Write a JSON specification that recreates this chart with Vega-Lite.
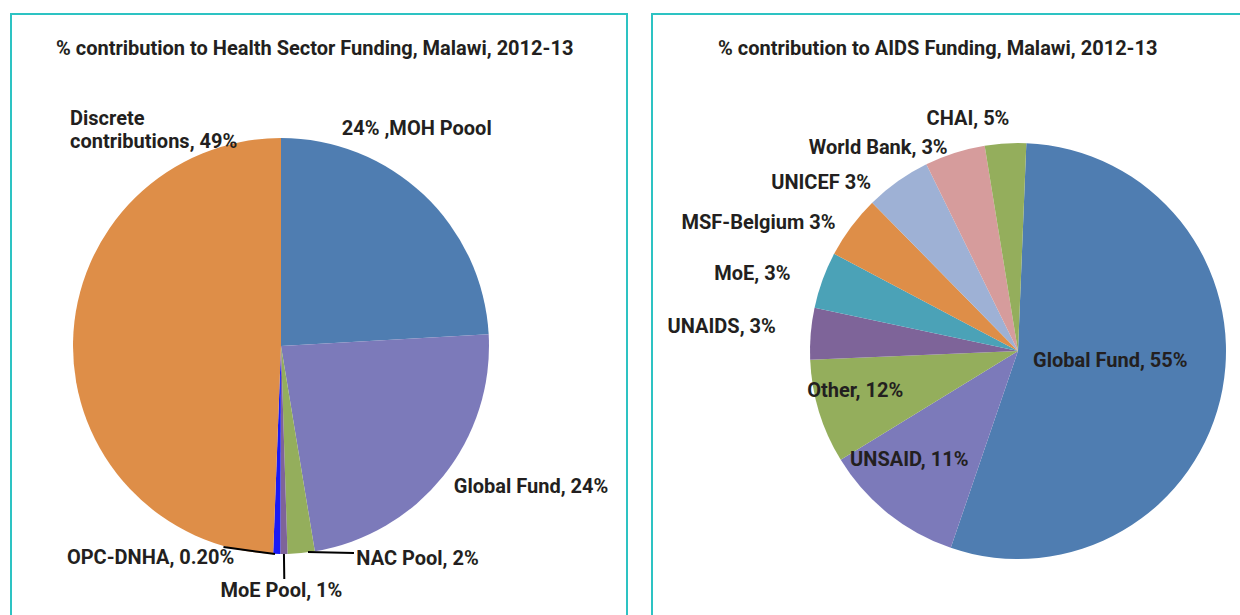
{
  "$schema": "https://vega.github.io/schema/vega-lite/v6.json",
  "padding": {"left": 10, "top": 13, "right": 0, "bottom": 0},
  "background": "white",
  "config": {
    "view": {"stroke": "#2DC3C3", "strokeWidth": 2},
    "concat": {"spacing": 23},
    "text": {"font": "Roboto", "fontWeight": "bold", "fontSize": 20, "color": "#231F20", "baseline": "middle"},
    "title": {"font": "Roboto", "fontWeight": "bold", "fontSize": 20, "color": "#231F20", "anchor": "start", "baseline": "alphabetic", "frame": "group"}
  },
  "datasets": {
    "health": [
      {"k": 1, "source": "MOH Pool", "share": 24.1, "label": "24% ,MOH Poool"},
      {"k": 2, "source": "Global Fund", "share": 23.3, "label": "Global Fund, 24%"},
      {"k": 3, "source": "NAC Pool", "share": 2.1, "label": "NAC Pool, 2%"},
      {"k": 4, "source": "MoE Pool", "share": 0.55, "label": "MoE Pool, 1%"},
      {"k": 5, "source": "OPC-DNHA", "share": 0.55, "label": "OPC-DNHA, 0.20%"},
      {"k": 6, "source": "Discrete contributions", "share": 49.4, "label": "Discrete\ncontributions, 49%"}
    ],
    "aids": [
      {"k": 1, "source": "Global Fund", "share": 54.6, "label": "Global Fund, 55%"},
      {"k": 2, "source": "UNSAID", "share": 11.0, "label": "UNSAID, 11%"},
      {"k": 3, "source": "Other", "share": 8.1, "label": "Other, 12%"},
      {"k": 4, "source": "UNAIDS", "share": 4.0, "label": "UNAIDS, 3%"},
      {"k": 5, "source": "MoE", "share": 4.4, "label": "MoE, 3%"},
      {"k": 6, "source": "MSF-Belgium", "share": 4.9, "label": "MSF-Belgium 3%"},
      {"k": 7, "source": "UNICEF", "share": 5.1, "label": "UNICEF 3%"},
      {"k": 8, "source": "World Bank", "share": 4.7, "label": "World Bank, 3%"},
      {"k": 9, "source": "CHAI", "share": 3.2, "label": "CHAI, 5%"}
    ]
  },
  "resolve": {"scale": {"color": "independent", "theta": "independent"}},
  "hconcat": [
    {
      "width": 616,
      "height": 640,
      "view": {"stroke": "#2DC3C3", "strokeWidth": 2},
      "title": {"text": "% contribution to Health Sector Funding, Malawi, 2012-13", "offset": -45, "dx": 45},
      "data": {"name": "health"},
      "encoding": {
        "theta": {"field": "share", "type": "quantitative", "stack": true, "scale": {"range": [0, 6.2832]}},
        "order": {"field": "k", "type": "quantitative"}
      },
      "layer": [
        {
          "mark": {"type": "arc", "x": 270, "y": 332, "radius": 208},
          "encoding": {
            "color": {"field": "source", "type": "nominal", "legend": null,
              "scale": {"domain": ["MOH Pool", "Global Fund", "NAC Pool", "MoE Pool", "OPC-DNHA", "Discrete contributions"],
                        "range": ["#4F7DB1", "#7C7ABA", "#94AE5C", "#7E6499", "#1A1AF5", "#DE8E48"]}}
          }
        },
        {
          "mark": {"type": "arc", "x": 270, "y": 332, "radius": 233, "radius2": 208, "padAngle": 0.2, "filled": false, "stroke": "#000000", "strokeWidth": 2},
          "encoding": {"strokeOpacity": {"condition": {"test": "datum.source === 'MoE Pool'", "value": 1}, "value": 0}}
        },
        {
          "mark": {"type": "arc", "x": 297, "y": 538, "radius": 46, "thetaOffset": -1.452, "padAngle": 0.6, "filled": false, "stroke": "#000000", "strokeWidth": 2},
          "encoding": {"strokeOpacity": {"condition": {"test": "datum.source === 'NAC Pool'", "value": 1}, "value": 0}}
        },
        {
          "mark": {"type": "arc", "x": 264, "y": 540, "radius": 52, "thetaOffset": 1.685, "padAngle": 0.6, "filled": false, "stroke": "#000000", "strokeWidth": 2},
          "encoding": {"strokeOpacity": {"condition": {"test": "datum.source === 'OPC-DNHA'", "value": 1}, "value": 0}}
        },
        {
          "mark": {"type": "text", "x": 270, "y": 332, "lineBreak": "\n", "lineHeight": 23,
            "radius": {"expr": "[250, 250, 230, 245, 230, 250][datum.k - 1]"},
            "dx": {"expr": "[-36, 55, 53, -3, -42, 39][datum.k - 1]"},
            "dy": {"expr": "[-35, -15, -16, 0, -18, -222][datum.k - 1]"},
            "align": {"expr": "['center', 'center', 'left', 'center', 'right', 'left'][datum.k - 1]"}},
          "encoding": {"text": {"field": "label"}}
        }
      ]
    },
    {
      "width": 600,
      "height": 640,
      "view": {"stroke": "#2DC3C3", "strokeWidth": 2},
      "title": {"text": "% contribution to AIDS Funding, Malawi, 2012-13", "offset": -45, "dx": 66},
      "data": {"name": "aids"},
      "encoding": {
        "theta": {"field": "share", "type": "quantitative", "stack": true, "scale": {"range": [0.0401, 6.3233]}},
        "order": {"field": "k", "type": "quantitative"}
      },
      "layer": [
        {
          "mark": {"type": "arc", "x": 366, "y": 337, "radius": 208},
          "encoding": {
            "color": {"field": "source", "type": "nominal", "legend": null,
              "scale": {"domain": ["Global Fund", "UNSAID", "Other", "UNAIDS", "MoE", "MSF-Belgium", "UNICEF", "World Bank", "CHAI"],
                        "range": ["#4F7DB1", "#7C7ABA", "#94AE5C", "#7E6499", "#4BA2B7", "#DE8E48", "#9EB1D5", "#D69C9C", "#94AE5C"]}}
          }
        },
        {
          "mark": {"type": "text", "x": 366, "y": 337,
            "radius": {"expr": "[100, 150, 165, 225, 225, 225, 225, 225, 225][datum.k - 1]"},
            "dx": {"expr": "[-6, -15, -5, -18, -16, -2, -17, -2, 5][datum.k - 1]"},
            "dy": {"expr": "[-8, -8, -8, -5, 0, 6, 16, 11, -7][datum.k - 1]"},
            "align": {"expr": "datum.k <= 3 ? 'center' : 'right'"}},
          "encoding": {"text": {"field": "label"}}
        }
      ]
    }
  ]
}
